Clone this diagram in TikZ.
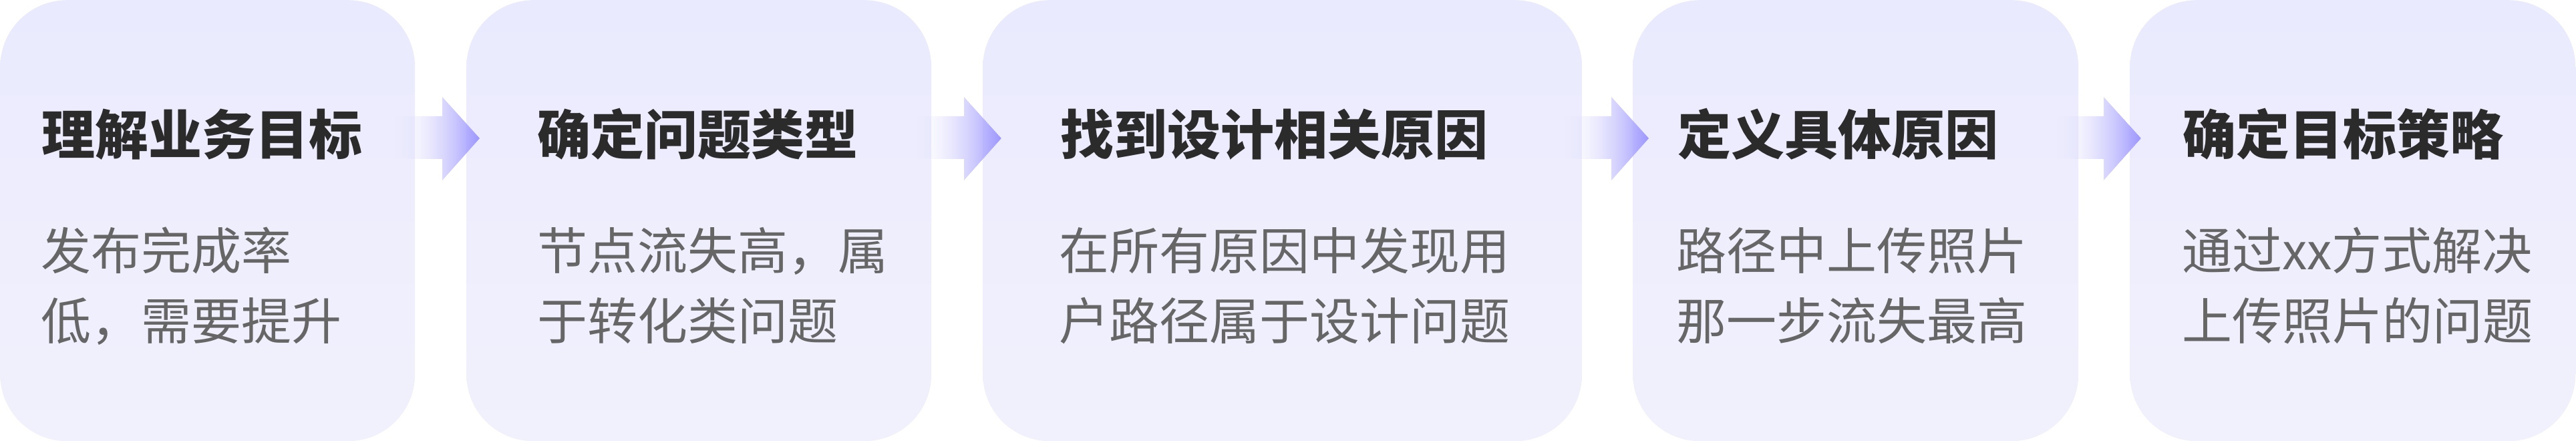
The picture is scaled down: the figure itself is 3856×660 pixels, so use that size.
\documentclass[tikz,border=0pt]{standalone}
\usepackage{fontspec}
\setmainfont{Noto Sans CJK SC}
\definecolor{boxtop}{HTML}{EAEAFE}
\definecolor{boxbot}{HTML}{F1F1FD}
\definecolor{arrA}{HTML}{E9E7FB}
\definecolor{arrB}{HTML}{9D97FF}
\definecolor{titlec}{HTML}{2B2B2B}
\definecolor{bodyc}{HTML}{666666}
\tikzset{
  stepcard/.style={rectangle, rounded corners=100pt, top color=boxtop, bottom color=boxbot, draw=none, minimum height=660pt, inner sep=0pt, anchor=north west},
  titletxt/.style={inner sep=0pt, anchor=base west, text=titlec, font=\fontsize{80pt}{96pt}\selectfont\bfseries},
  bodytxt/.style={inner sep=0pt, anchor=base west, text=bodyc, font=\fontsize{75pt}{90pt}\selectfont}
}
\newcommand{\flowarr}[1]{%
  \begin{scope}
    \clip (#1-70,174) -- (#1,174) -- (#1,145) -- (#1+56,207) -- (#1,270) -- (#1,238) -- (#1-70,238) -- cycle;
    \foreach \i in {0,...,62}{%
      \pgfmathsetmacro{\op}{(\i+0.5)/63}%
      \pgfmathsetmacro{\pc}{100*(\i+0.5)/63}%
      \fill[arrB!\pc!arrA, fill opacity=\op] (#1-70+2*\i,140) rectangle (#1-70+2*\i+2.3,275);
    }
  \end{scope}}
\begin{document}
\begin{tikzpicture}[x=1pt,y=-1pt]
\useasboundingbox (0,0) rectangle (3856,660);
\fill[white] (0,0) rectangle (3856,660);
% cards
\node[stepcard, minimum width=621pt] (c1) at (0,0) {};
\node[stepcard, minimum width=696pt] (c2) at (698,0) {};
\node[stepcard, minimum width=897pt] (c3) at (1471,0) {};
\node[stepcard, minimum width=667pt] (c4) at (2444,0) {};
\node[stepcard, minimum width=667pt] (c5) at (3188,0) {};
% arrows
\flowarr{662}
\flowarr{1443}
\flowarr{2412}
\flowarr{3149}
% texts
\node[titletxt] (t1) at (62,232) {理解业务目标};
\node[bodytxt] (b1a) at (61,403) {发布完成率};
\node[bodytxt] (b1b) at (61,508) {低，需要提升};
\node[titletxt] (t2) at (804,232) {确定问题类型};
\node[bodytxt] (b2a) at (804,403) {节点流失高，属};
\node[bodytxt] (b2b) at (804,508) {于转化类问题};
\node[titletxt] (t3) at (1587,232) {找到设计相关原因};
\node[bodytxt] (b3a) at (1585,403) {在所有原因中发现用};
\node[bodytxt] (b3b) at (1585,508) {户路径属于设计问题};
\node[titletxt] (t4) at (2511,232) {定义具体原因};
\node[bodytxt] (b4a) at (2509,403) {路径中上传照片};
\node[bodytxt] (b4b) at (2509,508) {那一步流失最高};
\node[titletxt] (t5) at (3267,232) {确定目标策略};
\node[bodytxt] (b5a) at (3266,403) {通过xx方式解决};
\node[bodytxt] (b5b) at (3266,508) {上传照片的问题};
\end{tikzpicture}
\end{document}
